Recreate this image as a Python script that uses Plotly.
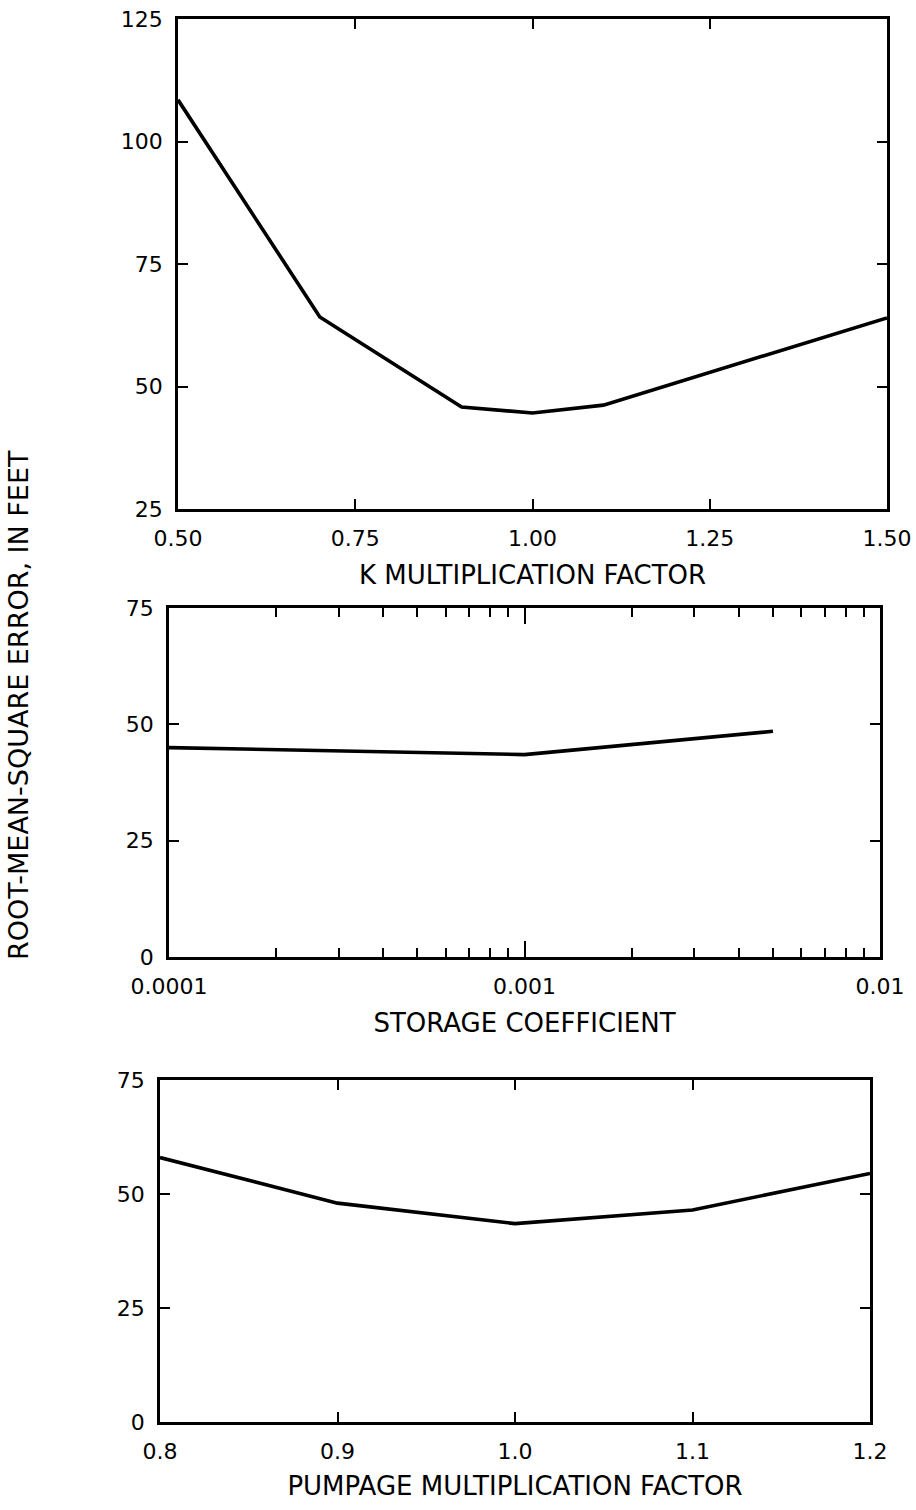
import plotly.graph_objects as go

# ---- data ----
k_factor = [0.5, 0.7, 0.9, 1.0, 1.1, 1.5]
k_rmse = [108.5, 64.2, 45.8, 44.6, 46.2, 64.0]

storage_coef = [0.0001, 0.001, 0.005]
storage_rmse = [45.0, 43.5, 48.5]

pump_factor = [0.8, 0.9, 1.0, 1.1, 1.2]
pump_rmse = [58.0, 48.0, 43.5, 46.5, 54.5]

k_tickvals = [0.5, 0.75, 1.0, 1.25, 1.5]
k_ticktext = ["0.50", "0.75", "1.00", "1.25", "1.50"]
s_tickvals = [0.0001, 0.001, 0.01]
s_ticktext = ["0.0001", "0.001", "0.01"]
s_minor = [m * 10.0 ** e for e in (-4, -3) for m in range(2, 10)]
p_tickvals = [0.8, 0.9, 1.0, 1.1, 1.2]
p_ticktext = ["0.8", "0.9", "1.0", "1.1", "1.2"]
y1_tickvals = [25, 50, 75, 100, 125]
y23_tickvals = [0, 25, 50, 75]

x_titles = ["K MULTIPLICATION FACTOR", "STORAGE COEFFICIENT", "PUMPAGE MULTIPLICATION FACTOR"]
y_title = "ROOT-MEAN-SQUARE ERROR, IN FEET"

W, H = 916, 1510
FONT = "DejaVu Sans"

def px(v):
    return v / W

def py(v):
    return 1 - v / H

base = dict(
    showline=True, linewidth=2.8, linecolor="black", mirror="allticks",
    ticks="inside", ticklen=10, tickwidth=2, tickcolor="black",
    showgrid=False, zeroline=False, tickmode="array", automargin=False,
    tickfont=dict(family=FONT, size=22, color="black"),
    ticklabelstandoff=8,
)
title_font = dict(family=FONT, size=26, color="black")

fig = go.Figure()
line = dict(color="black", width=3.6)
fig.add_trace(go.Scatter(x=k_factor, y=k_rmse, mode="lines", line=line, xaxis="x", yaxis="y"))
fig.add_trace(go.Scatter(x=storage_coef, y=storage_rmse, mode="lines", line=line, xaxis="x2", yaxis="y2"))
fig.add_trace(go.Scatter(x=pump_factor, y=pump_rmse, mode="lines", line=line, xaxis="x3", yaxis="y3"))

fig.update_layout(
    template="none",
    width=W, height=H, margin=dict(l=0, r=0, t=0, b=0, autoexpand=False),
    paper_bgcolor="white", plot_bgcolor="white", showlegend=False,
    xaxis=dict(base, domain=[px(178), px(887)], range=[0.5, 1.5], anchor="y",
               tickvals=k_tickvals, ticktext=k_ticktext,
               title=dict(text=x_titles[0], font=title_font, standoff=16)),
    yaxis=dict(base, domain=[py(509), py(19)], range=[25, 125], anchor="x",
               tickvals=y1_tickvals),
    xaxis2=dict(base, type="log", domain=[px(169), px(880)], range=[-4, -2], anchor="y2",
                tickvals=s_tickvals, ticktext=s_ticktext, ticklen=16,
                minor=dict(tickmode="array", tickvals=s_minor, ticks="inside", ticklen=9,
                           tickwidth=2, tickcolor="black", showgrid=False),
                title=dict(text=x_titles[1], font=title_font, standoff=16)),
    yaxis2=dict(base, domain=[py(957), py(608)], range=[0, 75], anchor="x2",
                tickvals=y23_tickvals),
    xaxis3=dict(base, domain=[px(160), px(870)], range=[0.8, 1.2], anchor="y3",
                tickvals=p_tickvals, ticktext=p_ticktext,
                title=dict(text=x_titles[2], font=title_font, standoff=14)),
    yaxis3=dict(base, domain=[py(1422), py(1080)], range=[0, 75], anchor="x3",
                tickvals=y23_tickvals),
    annotations=[dict(text=y_title, x=px(18), y=py(705), xref="paper", yref="paper",
                      textangle=-90, showarrow=False, xanchor="center", yanchor="middle",
                      font=dict(family=FONT, size=27, color="black"))],
)

fig.write_html("out.html")
